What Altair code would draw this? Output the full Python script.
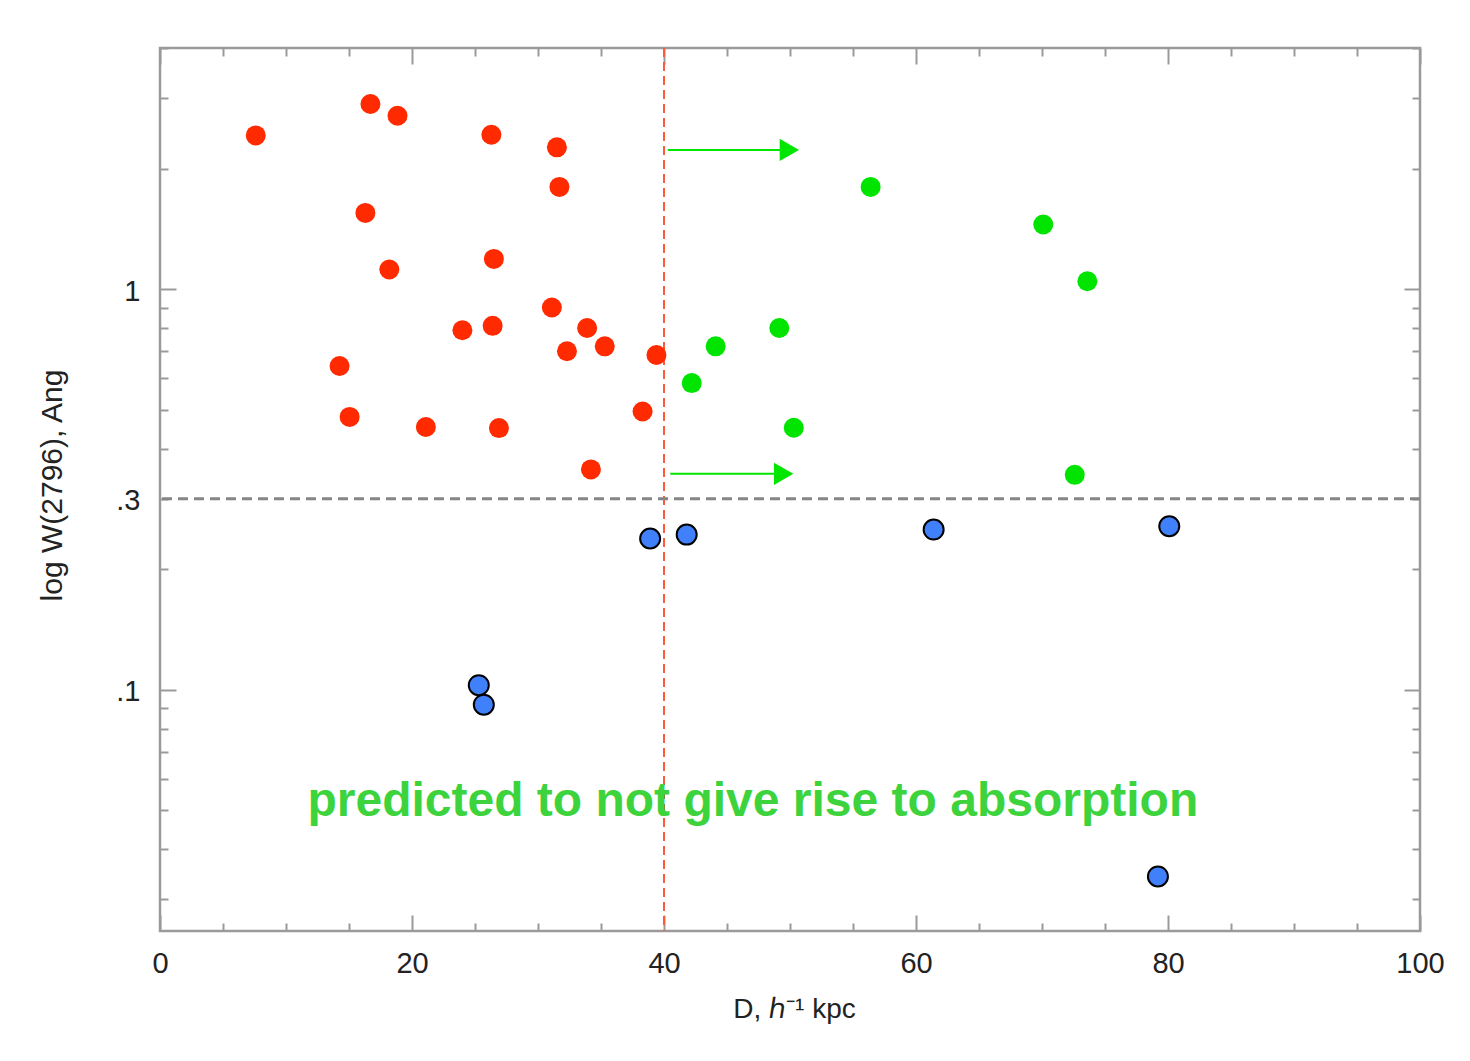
import altair as alt
import pandas as pd

# ---------------- data ----------------
red_D = [7.6, 16.7, 18.85, 26.3, 31.5, 31.7, 16.3, 18.2, 26.5, 31.1, 24.0, 26.4,
         33.9, 32.3, 35.3, 39.4, 14.25, 15.05, 21.1, 26.9, 38.3, 34.2]
red_W = [2.42, 2.90, 2.71, 2.43, 2.26, 1.80, 1.55, 1.12, 1.19, 0.90, 0.79, 0.81,
         0.80, 0.70, 0.72, 0.685, 0.643, 0.48, 0.453, 0.45, 0.495, 0.355]

green_D = [56.4, 70.1, 73.6, 49.15, 44.1, 42.2, 50.3, 72.6]
green_W = [1.80, 1.45, 1.047, 0.80, 0.72, 0.583, 0.451, 0.344]

blue_D = [38.9, 41.8, 61.4, 80.1, 25.3, 25.7, 79.2]
blue_W = [0.2386, 0.244, 0.2512, 0.256, 0.1027, 0.0918, 0.0342]

arrow_D0 = [40.3, 40.5]
arrow_D1 = [49.6, 49.2]
arrow_head_D = [49.95, 49.5]
arrow_W = [2.227, 0.346]

vline_D = [40]
hline_W = [0.3]

note_text = ["predicted to not give rise to absorption"]
note_D = [47.05]
note_W = [0.0485]

x_major = [0, 20, 40, 60, 80, 100]
x_minor = [5, 10, 15, 25, 30, 35, 45, 50, 55, 65, 70, 75, 85, 90, 95]
y_label_values = [0.1, 0.3, 1]
y_label_texts = [".1", ".3", "1"]
y_major = [0.1, 1]
y_minor = [0.03, 0.04, 0.05, 0.06, 0.07, 0.08, 0.09,
           0.2, 0.3, 0.4, 0.5, 0.6, 0.7, 0.8, 0.9, 2, 3, 4]

x_title = "D, ℎ⁻¹ kpc"
y_title = "log W(2796), Ang"

# ---------------- tables ----------------
red_df = pd.DataFrame({"D": red_D, "W": red_W})
green_df = pd.DataFrame({"D": green_D, "W": green_W})
blue_df = pd.DataFrame({"D": blue_D, "W": blue_W})
arrow_df = pd.DataFrame({"D0": arrow_D0, "D1": arrow_D1, "H": arrow_head_D, "W": arrow_W})
vline_df = pd.DataFrame({"D": vline_D})
hline_df = pd.DataFrame({"W": hline_W})
note_df = pd.DataFrame({"D": note_D, "W": note_W, "txt": note_text})

FONT = "Liberation Sans"
TXT = "#222222"
FRAME = "#9a9a9a"
W_PX, H_PX = 1260, 883

xs = alt.Scale(domain=[0, 100], nice=False, zero=False)
ys = alt.Scale(type="log", domain=[0.025, 4], nice=False)

label_expr = " : ".join(
    f"datum.value > {v * 0.9} && datum.value < {v * 1.1} ? '{t}'"
    for v, t in zip(y_label_values, y_label_texts)
) + " : ''"

x_label_axis = alt.Axis(
    orient="bottom", values=x_major, ticks=False, tickSize=0, domain=False, grid=False,
    labelFont=FONT, labelFontSize=29, labelColor=TXT, labelPadding=18, format="d",
    labelFlush=False, labelOverlap=False,
    title=x_title, titleFont=FONT, titleFontSize=28, titleFontWeight="normal",
    titleColor=TXT, titleX=634, titleY=86, titleBaseline="alphabetic", titleAlign="center",
)
y_label_axis = alt.Axis(
    orient="left", values=y_label_values, ticks=False, tickSize=0, domain=False, grid=False,
    labelFont=FONT, labelFontSize=29, labelColor=TXT, labelPadding=20, labelOffset=2,
    labelFlush=False, labelOverlap=False, labelExpr=label_expr,
    title=y_title, titleFont=FONT, titleFontSize=30, titleFontWeight="normal",
    titleColor=TXT, titleX=-99, titleY=437, titleAngle=270, titleBaseline="alphabetic",
    titleAlign="center",
)


def tick_axis(orient, values, size):
    return alt.Axis(orient=orient, values=values, labels=False, ticks=True,
                    tickSize=size, offset=-size, tickColor=FRAME, tickWidth=2,
                    domain=False, grid=False, title=None)


vline = alt.Chart(vline_df).mark_rule(
    color="#ff5a3c", strokeWidth=2, strokeDash=[9, 5]
).encode(x=alt.X("D:Q", scale=xs, axis=None))

hline = alt.Chart(hline_df).mark_rule(
    color="#858585", strokeWidth=3, strokeDash=[10, 6]
).encode(y=alt.Y("W:Q", scale=ys, axis=None))

arrows = alt.Chart(arrow_df).mark_rule(color="#00e600", strokeWidth=2).encode(
    x=alt.X("D0:Q", scale=xs, axis=None), x2="D1:Q",
    y=alt.Y("W:Q", scale=ys, axis=None),
)

heads = alt.Chart(arrow_df).mark_point(
    shape="triangle-right", filled=True, size=500, color="#00e600", opacity=1
).encode(
    x=alt.X("H:Q", scale=xs, axis=tick_axis("top", x_major, 16)),
    y=alt.Y("W:Q", scale=ys, axis=tick_axis("right", y_major, 16)),
)

red = alt.Chart(red_df).mark_circle(size=400, color="#ff2a00", opacity=1).encode(
    x=alt.X("D:Q", scale=xs, axis=x_label_axis),
    y=alt.Y("W:Q", scale=ys, axis=y_label_axis),
)

green = alt.Chart(green_df).mark_circle(size=400, color="#00e400", opacity=1).encode(
    x=alt.X("D:Q", scale=xs, axis=tick_axis("bottom", x_major, 16)),
    y=alt.Y("W:Q", scale=ys, axis=tick_axis("left", y_major, 16)),
)

blue = alt.Chart(blue_df).mark_circle(
    size=400, fill="#4180fb", stroke="black", strokeWidth=2, opacity=1
).encode(
    x=alt.X("D:Q", scale=xs, axis=tick_axis("bottom", x_minor, 8)),
    y=alt.Y("W:Q", scale=ys, axis=tick_axis("left", y_minor, 8)),
)

note = alt.Chart(note_df).mark_text(
    font=FONT, fontSize=48, fontWeight="bold", color="#3dd33d",
    align="center", baseline="alphabetic"
).encode(
    x=alt.X("D:Q", scale=xs, axis=tick_axis("top", x_minor, 8)),
    y=alt.Y("W:Q", scale=ys, axis=tick_axis("right", y_minor, 8)),
    text="txt:N",
)

chart = alt.layer(vline, hline, arrows, heads, red, green, blue, note).resolve_axis(
    x="independent", y="independent"
).properties(
    width=W_PX, height=H_PX,
    autosize=alt.AutoSizeParams(type="none"),
    padding={"left": 152, "top": 40, "right": 30, "bottom": 110},
    background="white",
).configure_view(stroke=FRAME, strokeWidth=2.5)

chart.save("out.html", embed_options={"renderer": "svg", "actions": False})
